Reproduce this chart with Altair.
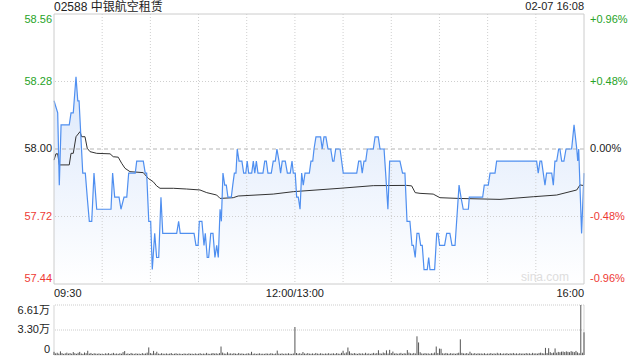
import altair as alt
import pandas as pd

FONT = "Liberation Sans, Noto Sans CJK SC, sans-serif"

title_text = "02588 中银航空租赁"
stamp_text = "02-07 16:08"

# price line (minute index from 09:30, trading minutes only)
price_minutes = [0, 2.3, 3.3, 4.4, 9.5, 10.6, 12.0, 13.7, 14.8, 15.6, 17.9, 19.5, 20.7, 22.0, 23.5, 24.9, 26.6,
                 35.5, 36.5, 37.8, 40.5, 41.7, 43.6, 45.3, 46.5, 50.6, 51.5, 55.6, 56.8, 57.7, 59.0, 60.2, 61.2,
                 62.7, 63.9, 65.2, 66.6, 67.7, 76.4, 77.6, 78.6, 87.2, 88.4, 89.7, 90.5, 92.1, 93.4, 94.2, 95.4,
                 96.3, 97.6, 99.0, 100.2, 101.3, 102.3, 103.4, 104.2, 105.2, 106.3, 107.3, 108.3, 110.4, 111.3,
                 112.3, 113.3, 114.1, 115.2, 117.0, 118.1, 119.4, 120.3, 121.2, 123.1, 124.1, 125.0, 126.0, 127.0,
                 130.1, 131.2, 132.2, 133.2, 135.3, 136.5, 137.8, 138.8, 140.1, 141.1, 142.1, 144.0, 145.3, 147.1,
                 148.2, 149.0, 150.2, 151.1, 152.1, 153.2, 154.2, 155.2, 156.3, 159.0, 160.0, 161.1, 161.9, 163.1,
                 166.0, 167.0, 168.1, 169.3, 170.6, 172.3, 173.5, 174.3, 175.4, 178.1, 180.1, 188.5, 189.7, 191.0,
                 191.9, 193.0, 194.1, 195.1, 198.8, 199.9, 201.9, 203.0, 205.5, 206.5, 207.9, 209.0, 215.4, 217.0,
                 218.5, 219.8, 221.6, 222.9, 223.8, 224.9, 226.0, 227.2, 228.3, 229.3, 230.4, 232.4, 233.3, 234.1,
                 237.0, 238.3, 239.1, 240.1, 243.2, 244.5, 246.5, 247.8, 249.7, 252.2, 253.4, 254.8, 258.0, 258.6,
                 266.9, 267.9, 270.4, 271.5, 274.6, 275.6, 300.5, 301.5, 302.6, 303.6, 305.7, 306.7, 309.9, 310.9,
                 311.9, 313.0, 314.2, 315.0, 316.1, 317.5, 318.8, 322.3, 323.8, 325.5, 326.1, 326.7, 328.5, 330]
price_values = [58.20, 58.15, 57.85, 58.10, 58.10, 58.15, 58.15, 58.30, 58.20, 58.20, 57.90, 57.90, 57.80, 57.70,
                57.70, 57.90, 57.75, 57.75, 57.90, 57.80, 57.80, 57.75, 57.80, 57.80, 57.90, 57.90, 57.95, 57.95,
                57.90, 57.90, 57.70, 57.70, 57.50, 57.65, 57.55, 57.55, 57.80, 57.65, 57.65, 57.70, 57.65, 57.65,
                57.60, 57.60, 57.70, 57.70, 57.60, 57.65, 57.55, 57.55, 57.65, 57.65, 57.55, 57.60, 57.55, 57.75,
                57.70, 57.90, 57.85, 57.85, 57.80, 57.80, 57.85, 57.90, 57.90, 58.00, 57.95, 57.95, 57.90, 57.90,
                57.95, 57.90, 57.90, 57.95, 57.90, 57.95, 57.90, 57.90, 57.95, 57.95, 57.90, 57.90, 57.95, 57.95,
                58.00, 57.95, 57.90, 57.95, 57.95, 57.90, 57.90, 57.95, 57.90, 57.90, 57.80, 57.80, 57.75, 57.90,
                57.85, 57.90, 57.90, 57.95, 57.95, 58.00, 58.05, 58.05, 58.00, 58.05, 58.05, 58.00, 58.00, 57.95,
                57.95, 58.00, 58.00, 57.90, 57.90, 57.95, 57.95, 57.90, 57.95, 57.95, 58.00, 58.00, 58.05, 58.05,
                58.00, 58.00, 57.90, 57.75, 57.95, 57.95, 57.90, 57.90, 57.70, 57.70, 57.60, 57.60, 57.55, 57.65,
                57.65, 57.60, 57.60, 57.50, 57.50, 57.55, 57.50, 57.50, 57.65, 57.65, 57.60, 57.60, 57.65, 57.65,
                57.60, 57.60, 57.85, 57.80, 57.75, 57.75, 57.80, 57.80, 57.85, 57.85, 57.90, 57.90, 57.95, 57.95,
                57.90, 57.95, 57.95, 57.85, 57.90, 57.90, 57.85, 57.95, 57.95, 58.00, 58.00, 57.95, 57.95, 58.00,
                58.00, 58.10, 58.00, 57.95, 58.00, 57.65, 57.90]

# average price line
avg_minutes = [0, 1.2, 2.3, 3.3, 9.5, 10.6, 12, 13.7, 16.2, 17.2, 19.3, 20.7, 22.4, 26.6, 34.9, 36.9, 40, 42.1,
               44.2, 47.3, 55.6, 58.7, 61.8, 63.9, 66.0, 74.3, 82.6, 90.9, 95.1, 101.3, 103.4, 111.6, 114.7,
               136.5, 149, 178.1, 198.8, 219.6, 222.7, 224.9, 227.9, 236.1, 240.3, 251.7, 277.7, 298.4, 313,
               325.5, 327.5, 330]
avg_values = [57.954, 57.98, 57.98, 57.934, 57.934, 57.982, 57.982, 58.051, 58.072, 58.051, 58.051, 58.003,
              57.989, 57.982, 57.98, 57.968, 57.966, 57.941, 57.92, 57.906, 57.902, 57.878, 57.864, 57.847,
              57.837, 57.837, 57.834, 57.83, 57.819, 57.809, 57.795, 57.798, 57.805, 57.813, 57.823, 57.837,
              57.848, 57.849, 57.847, 57.819, 57.816, 57.813, 57.798, 57.795, 57.791, 57.802, 57.809, 57.83,
              57.851, 57.848]

# volume per minute (shares), minute 0..330
volume_values = [
    4200, 2100, 3000, 1800, 4800, 2500, 1500, 2200, 3100, 1900,
    2600, 1700, 3900, 2400, 1600, 2900, 4100, 2000, 1500, 3300,
    2400, 5600, 1800, 2700, 1400, 2300, 1900, 1600, 2100, 1500,
    1800, 1300, 2200, 1700, 2500, 1400, 1900, 2800, 1600, 2000,
    1500, 2300, 1700, 3800, 5200, 1600, 2100, 1400, 2700, 1800,
    1500, 2200, 1600, 1900, 1400, 2500, 1700, 2000, 3100, 10000,
    2600, 1800, 5400, 2200, 4300, 1900, 1500, 2400, 1700, 1600,
    2100, 1500, 1800, 2600, 1400, 1700, 2300, 1500, 1900, 1600,
    1400, 2000, 1700, 1500, 2200, 1600, 1800, 1400, 2100, 1500,
    1700, 2400, 1500, 1900, 1600, 2800, 1700, 1500, 2000, 2600,
    1800, 2300, 1600, 2500, 11200, 3200, 2000, 1700, 3600, 1900,
    2200, 1600, 2400, 1800, 1500, 2700, 1700, 2100, 1600, 1500,
    1900, 2300, 1700, 4200, 1600, 2000, 1500, 1800, 2200, 1600,
    1700, 1500, 2100, 1800, 1600, 2400, 1900, 1500, 2000, 5800,
    1800, 1600, 2200, 1500, 1900, 1700, 2300, 1600, 1500, 2000,
    37000, 2600, 1800, 2400, 1600, 3900, 2000, 1700, 2500, 1800,
    1600, 2100, 1500, 2700, 1900, 1600, 2300, 1800, 1500, 2000,
    1700, 2400, 1600, 1900, 2200, 1500, 2600, 1800, 1600, 2900,
    5600, 2100, 3400, 9900, 4800, 2300, 1700, 2600, 1900, 1500,
    2400, 1800, 2200, 1600, 2900, 1700, 2100, 1500, 2000, 2800,
    1900, 2500, 6300, 2200, 1800, 3300, 2400, 6100, 2000, 6800,
    2600, 4500, 1900, 2300, 1700, 2100, 2800, 1600, 2400, 2000,
    6500, 3100, 2200, 1800, 2700, 2000, 24700, 16600, 3600, 2100,
    1800, 2500, 1900, 2200, 1600, 2400, 2000, 3200, 11200, 2600,
    8500, 8200, 2300, 1900, 2700, 2100, 1700, 2500, 1800, 2200,
    1600, 2400, 3000, 20700, 2800, 2100, 1900, 2600, 1700, 4300,
    2200, 1800, 2500, 1600, 2300, 1900, 2100, 1700, 2400, 1500,
    2000, 1800, 2600, 1600, 2200, 1700, 2900, 1900, 2400, 1600,
    2100, 1800, 2500, 1500, 2300, 1900, 2700, 1700, 2200, 1600,
    2400, 1800, 2100, 1700, 2600, 1900, 2300, 1600, 2800, 2000,
    2200, 1800, 2700, 3100, 2400, 2000, 9400, 2600, 9000, 3800,
    2500, 3200, 8700, 3000, 4100, 3600, 4400, 4600, 3900, 4800,
    4200, 3700, 5100, 4300, 3800, 5400, 3500, 2400, 66100, 3000,
    30000]

price_ticks = [58.56, 58.28, 58.00, 57.72, 57.44]
price_labels = ["58.56", "58.28", "58.00", "57.72", "57.44"]
pct_labels = ["+0.96%", "+0.48%", "0.00%", "-0.48%", "-0.96%"]
tick_colors = ["#27a327", "#27a327", "#222222", "#ee3a34", "#ee3a34"]
tick_place = ["top", "middle", "middle", "middle", "bottom"]

dotted_prices = [58.28, 57.72]
prev_close = [58.00]
grid_minutes = [30, 60, 90, 120, 150, 180, 210, 240, 270, 300]
edge_minutes = [0, 330]

time_ticks = [0, 150, 330]
time_labels = ["09:30", "12:00/13:00", "16:00"]
time_align = ["left", "center", "right"]

vol_ticks = [66100, 33050, 0]
vol_labels = ["6.61万", "3.30万", "0"]
vol_place = ["top", "middle", "bottom"]

P_MIN, P_MAX = price_ticks[-1], price_ticks[0]
V_MAX = vol_ticks[0]

XS = alt.Scale(domain=[0, 330], nice=False, zero=False)
PS = alt.Scale(domain=[P_MIN, P_MAX], range=[270, 0], nice=False, zero=False)
VS = alt.Scale(domain=[0, V_MAX], range=[341, 291], nice=False, zero=True)

price_df = pd.DataFrame({"m": price_minutes, "p": price_values})
avg_df = pd.DataFrame({"m": avg_minutes, "p": avg_values})
vol_df = pd.DataFrame({"m": list(range(len(volume_values))), "v": volume_values})
tick_df = pd.DataFrame({"v": price_ticks, "lab": price_labels, "pct": pct_labels,
                        "col": tick_colors, "place": tick_place})
vtick_df = pd.DataFrame({"v": vol_ticks, "lab": vol_labels, "place": vol_place})
time_df = pd.DataFrame({"m": time_ticks, "lab": time_labels, "al": time_align})

X = alt.X("m:Q", scale=XS, axis=None)
PY = alt.Y("p:Q", scale=PS, axis=None)

layers = []

# gradient area
grad = alt.LinearGradient(gradient="linear",
                          stops=[alt.GradientStop(color="#ffffff", offset=0),
                                 alt.GradientStop(color="#dce8fb", offset=1)],
                          x1=1, x2=1, y1=1, y2=0)
layers.append(alt.Chart(price_df).mark_area(color=grad).encode(x=X, y=PY, y2=alt.datum(P_MIN)))

# grid lines
layers.append(alt.Chart(pd.DataFrame({"m": grid_minutes})).mark_rule(
    color="#cfcfcf", strokeDash=[1, 2], strokeWidth=1).encode(
    x=X, y=alt.YDatum(P_MAX, scale=PS, axis=None), y2=alt.datum(P_MIN)))
layers.append(alt.Chart(pd.DataFrame({"p": dotted_prices})).mark_rule(
    color="#cfcfcf", strokeDash=[1, 2], strokeWidth=1).encode(y=PY))
layers.append(alt.Chart(pd.DataFrame({"p": prev_close})).mark_rule(
    color="#b5b5b5", strokeDash=[4, 3], strokeWidth=1).encode(y=PY))

# lines
layers.append(alt.Chart(avg_df).mark_line(color="#333333", strokeWidth=1).encode(x=X, y=PY))
layers.append(alt.Chart(price_df).mark_line(color="#4f8ff0", strokeWidth=1.2).encode(x=X, y=PY))

# frame of price panel
layers.append(alt.Chart(pd.DataFrame({"p": [P_MAX, P_MIN]})).mark_rule(
    color="#cccccc", strokeWidth=1).encode(y=PY))
layers.append(alt.Chart(pd.DataFrame({"m": edge_minutes})).mark_rule(
    color="#cccccc", strokeWidth=1).encode(
    x=X, y=alt.YDatum(P_MAX, scale=PS, axis=None), y2=alt.datum(P_MIN)))

# price labels
for place in ["top", "middle", "bottom"]:
    sub = alt.Chart(tick_df).transform_filter(alt.datum.place == place)
    layers.append(sub.mark_text(align="right", baseline=place, fontSize=11, font=FONT).encode(
        x=alt.value(-2), y=alt.Y("v:Q", scale=PS, axis=None), text="lab:N",
        color=alt.Color("col:N", scale=None)))
    layers.append(sub.mark_text(align="left", baseline=place, fontSize=11, font=FONT).encode(
        x=alt.value(536), y=alt.Y("v:Q", scale=PS, axis=None), text="pct:N",
        color=alt.Color("col:N", scale=None)))

# time labels
for al in time_align:
    layers.append(alt.Chart(time_df).transform_filter(alt.datum.al == al).mark_text(
        align=al, baseline="middle", fontSize=11, font=FONT, color="#222222").encode(
        x=X, y=alt.value(280), text="lab:N"))

# header
layers.append(alt.Chart(pd.DataFrame({"t": [title_text]})).mark_text(
    align="left", baseline="middle", fontSize=12, font=FONT, color="#222222").encode(
    x=alt.value(0), y=alt.value(-7), text="t:N"))
layers.append(alt.Chart(pd.DataFrame({"t": [stamp_text]})).mark_text(
    align="right", baseline="middle", fontSize=11, font=FONT, color="#222222").encode(
    x=alt.value(530), y=alt.value(-7), text="t:N"))
layers.append(alt.Chart(pd.DataFrame({"t": ["sina.com"]})).mark_text(
    align="center", baseline="middle", fontSize=12, font=FONT, color="#dddddd").encode(
    x=alt.value(491), y=alt.value(263), text="t:N"))

# volume panel
VY = alt.Y("v:Q", scale=VS, axis=None)
layers.append(alt.Chart(pd.DataFrame({"v": vol_ticks[:2]})).mark_rule(
    color="#cccccc", strokeDash=[1, 1], strokeWidth=1).encode(y=VY))
layers.append(alt.Chart(pd.DataFrame({"v": [0]})).mark_rule(
    color="#dddddd", strokeWidth=1).encode(y=VY))
layers.append(alt.Chart(pd.DataFrame({"m": edge_minutes})).mark_rule(
    color="#d5d5d5", strokeWidth=1).encode(
    x=X, y=alt.YDatum(V_MAX, scale=VS, axis=None), y2=alt.datum(0)))
layers.append(alt.Chart(vol_df).mark_rule(color="#555555", strokeWidth=1).encode(
    x=X, y=VY, y2=alt.datum(0)))
for place in vol_place:
    layers.append(alt.Chart(vtick_df).transform_filter(alt.datum.place == place).mark_text(
        align="right", baseline=place, fontSize=11, font=FONT, color="#222222").encode(
        x=alt.value(-4), y=alt.Y("v:Q", scale=VS, axis=None), text="lab:N"))

chart = alt.layer(*layers).resolve_scale(y="independent").properties(
    width=530, height=341,
    padding={"left": 54, "top": 14, "right": 56, "bottom": 5},
    autosize=alt.AutoSizeParams(type="none"),
    background="#ffffff",
).configure_view(strokeWidth=0)

chart.save("out.html", embed_options={"renderer": "svg", "actions": False})
